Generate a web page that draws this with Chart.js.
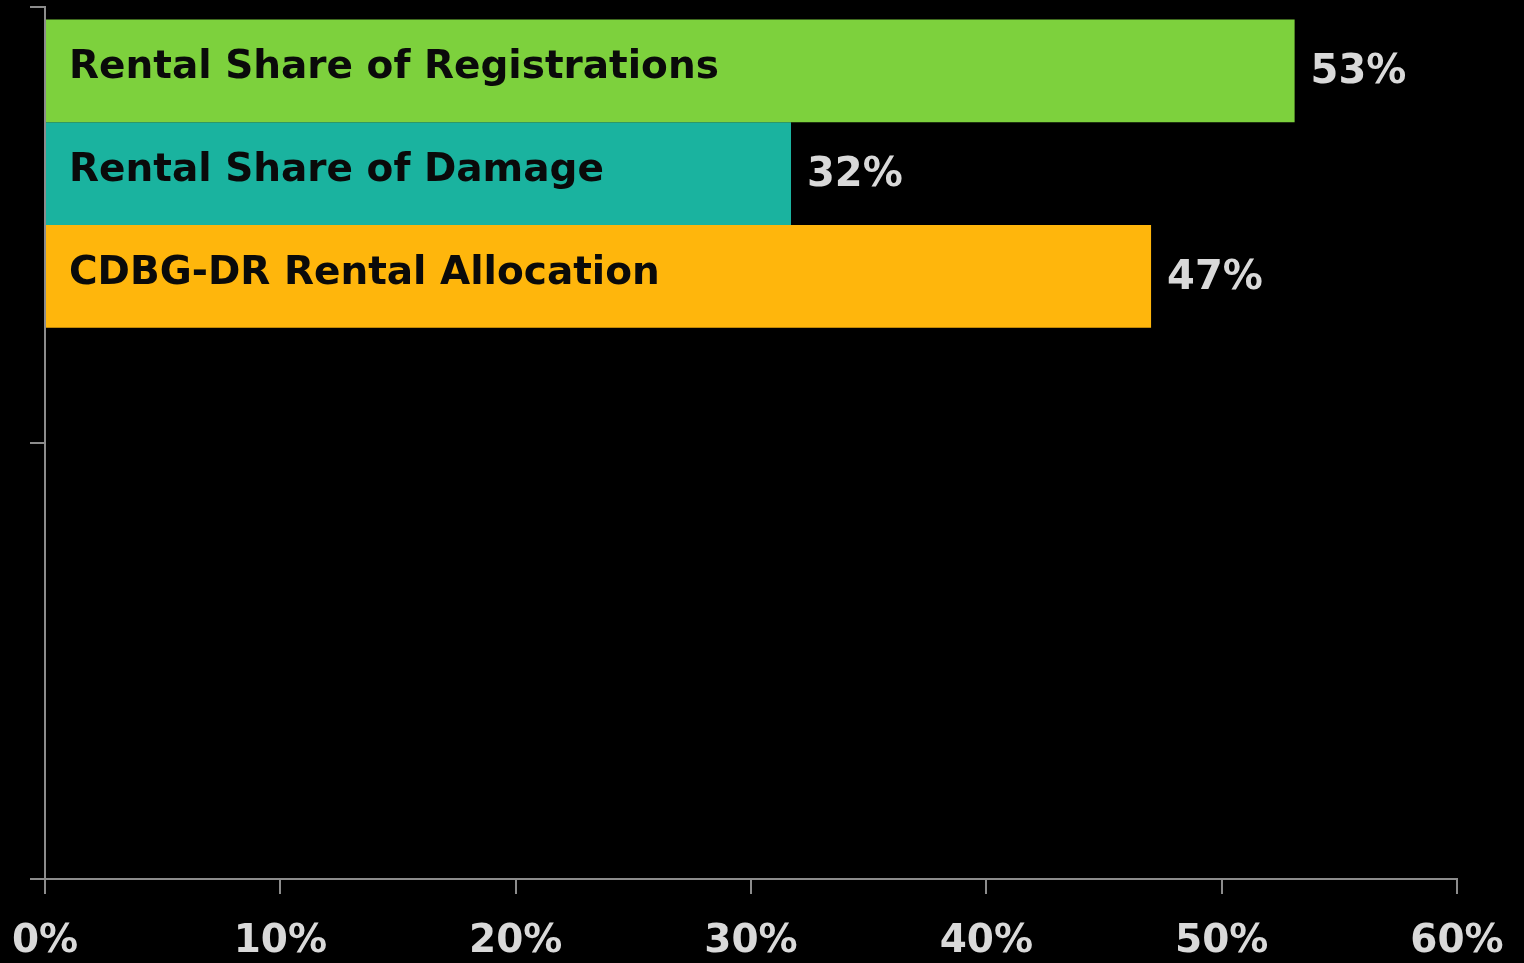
<!DOCTYPE html>
<html>
<head>
<meta charset="utf-8">
<script src="https://cdn.jsdelivr.net/npm/chart.js@4/dist/chart.umd.min.js"></script>
<style>
  html, body { margin: 0; padding: 0; background: #000; }
  #wrap { width: 1524px; height: 963px; }
</style>
</head>
<body>
<div id="wrap"><canvas id="grafico" width="1524" height="963"></canvas></div>
<script>
// series shown as bars (one category, three series + one empty slot)
var seriesNames = ['Rental Share of Registrations', 'Rental Share of Damage', 'CDBG-DR Rental Allocation'];
var seriesValues = [53.1, 31.7, 47.0];
var categories = ['', ''];
var tickLabels = ['0%', '10%', '20%', '30%', '40%', '50%', '60%'];

var barColors = ['#7dd13d', '#1ab39f', '#ffb60c'];
var fontFamily = '"DejaVu Sans", sans-serif';

var datasets = seriesNames.map(function (name, i) {
    return {
        label: name,
        data: [seriesValues[i], null],
        backgroundColor: barColors[i],
        borderWidth: 0,
        barPercentage: 1,
        categoryPercentage: 0.943
    };
});
// empty fourth slot, as in the original
datasets.push({ label: '', data: [null, null], barPercentage: 1, categoryPercentage: 0.943 });

var barLabels = {
    id: 'barLabels',
    afterDatasetsDraw: function (chart) {
        var ctx = chart.ctx;
        ctx.save();
        ctx.textBaseline = 'middle';
        ctx.textAlign = 'left';
        seriesNames.forEach(function (name, i) {
            var bar = chart.getDatasetMeta(i).data[0];
            ctx.font = 'bold 39px ' + fontFamily;
            ctx.fillStyle = '#0a0a0a';
            ctx.fillText(name, bar.base + 23, bar.y - 3);
            ctx.fillStyle = '#d9d9d9';
            ctx.font = 'bold 40px ' + fontFamily;
            ctx.fillText(Math.round(seriesValues[i]) + '%', bar.x + 16, bar.y + 2);
        });
        ctx.restore();
    }
};

new Chart(document.getElementById('grafico'), {
    type: 'bar',
    data: {
        labels: categories,
        datasets: datasets
    },
    options: {
        indexAxis: 'y',
        responsive: false,
        animation: false,
        layout: { padding: { left: 30, top: 7, right: 67, bottom: -27 } },
        plugins: {
            legend: { display: false },
            tooltip: { enabled: false }
        },
        scales: {
            x: {
                min: 0,
                max: 60,
                ticks: {
                    stepSize: 10,
                    color: '#d9d9d9',
                    font: { family: fontFamily, size: 39, weight: 'bold', lineHeight: 2.205 },
                    padding: 5,
                    maxRotation: 0,
                    callback: function (v, idx) { return tickLabels[idx]; }
                },
                grid: { drawOnChartArea: false, color: '#8c8c8c', lineWidth: 2, tickLength: 15 },
                border: { color: '#8c8c8c', width: 2 }
            },
            y: {
                offset: true,
                ticks: { display: false },
                grid: { offset: true, drawOnChartArea: false, color: '#8c8c8c', lineWidth: 2, tickLength: 15 },
                border: { color: '#8c8c8c', width: 2 }
            }
        }
    },
    plugins: [barLabels]
});
</script>
</body>
</html>
